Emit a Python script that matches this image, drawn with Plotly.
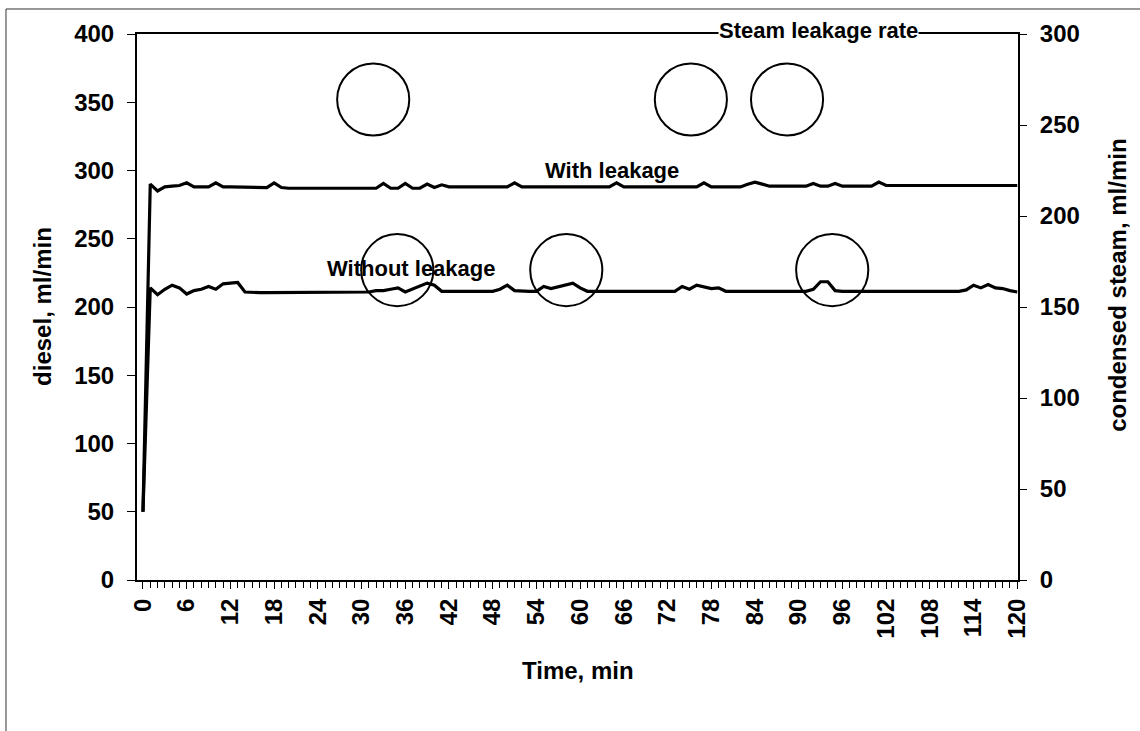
import plotly.graph_objects as go

# ---- data ----
minutes = list(range(0, 121))

with_leakage = [
    50, 290, 285, 288, 288.5, 289, 291, 288, 288, 288,          # 0-9
    291, 288, 288, 288, 288, 288, 287.5, 287.5, 291, 287.5,     # 10-19
    287, 287, 287, 287, 286.5, 286.5, 286.5, 287, 287, 287,     # 20-29
    287, 287, 287, 290.5, 287, 287, 290.5, 287, 287, 290,       # 30-39
    287.5, 289.5, 288, 288, 288, 288, 288, 288, 288, 288,       # 40-49
    288, 291, 288, 288, 288, 288, 288, 288, 288, 288,           # 50-59
    288, 288, 288, 288, 288, 291, 288, 288, 288, 288,           # 60-69
    288, 288, 288, 288, 288, 288, 288, 291, 288, 288,           # 70-79
    288, 288, 288, 290, 291.5, 290, 288.5, 288.5, 288.5, 288.5, # 80-89
    288.5, 288.5, 290.5, 288.5, 288.5, 290.5, 288.5, 288.5, 288.5, 288.5,  # 90-99
    288.5, 291.5, 289, 289, 289, 289.5, 289, 289, 289, 289,     # 100-109
    289, 289, 289, 289, 289, 289, 289, 289, 289, 289,           # 110-119
    289,                                                         # 120
]

without_leakage = [
    50, 214, 209, 213, 216, 214, 209.5, 212, 213, 215,          # 0-9
    213, 217, 217.5, 218, 211, 210.5, 210.5, 210.5, 210.5, 210.5,  # 10-19
    210.5, 210.5, 210.5, 210.5, 210.5, 210.5, 210.5, 210.5, 210.5, 210.5,  # 20-29
    211, 211, 212, 212, 213, 214, 211, 213, 215, 217.5,         # 30-39
    216, 211.5, 211.5, 211.5, 211.5, 211.5, 211.5, 211.5, 211.5, 213,  # 40-49
    216, 212, 211.5, 211.5, 211.5, 215, 213.5, 215, 216.5, 217.5,  # 50-59
    214, 211.5, 211.5, 211.5, 211.5, 211.5, 211.5, 211.5, 211.5, 211.5,  # 60-69
    211.5, 211.5, 211.5, 211.5, 215, 213, 216, 214.5, 213.5, 214,  # 70-79
    211.5, 211.5, 211.5, 211.5, 211.5, 211.5, 211.5, 211.5, 211.5, 211.5,  # 80-89
    211.5, 211.5, 213, 218.5, 218.5, 212, 211.5, 211.5, 211.5, 211.5,  # 90-99
    211.5, 211.5, 211.5, 211.5, 211.5, 211.5, 211.5, 211.5, 211.5, 211.5,  # 100-109
    211.5, 211.5, 211.5, 212.5, 216, 214, 216.5, 214, 213.5, 212,  # 110-119
    211,                                                         # 120
]

# highlight circles (centre minute, centre diesel value)
circle_x = [31.6, 75.2, 88.4, 34.9, 58.1, 94.6]
circle_y = [352, 352, 352, 227, 227, 227]
circle_rx = 4.95   # minutes
circle_ry = 26.4   # ml/min

label_texts = ["With leakage", "Without leakage"]
label_x = [64.4, 36.8]
label_y = [300, 228.5]

x_ticks = list(range(0, 121, 6))
left_ticks = list(range(0, 401, 50))
right_ticks = list(range(0, 301, 50))

FONT = "Liberation Sans, Arial, sans-serif"

fig = go.Figure()
fig.add_trace(go.Scatter(x=minutes, y=with_leakage, mode="lines",
                         line=dict(color="black", width=3.2), showlegend=False))
fig.add_trace(go.Scatter(x=minutes, y=without_leakage, mode="lines",
                         line=dict(color="black", width=3.2), showlegend=False))
# empty trace to register the right-hand axis
fig.add_trace(go.Scatter(x=[], y=[], yaxis="y2", showlegend=False))

shapes = []
for cx, cy in zip(circle_x, circle_y):
    shapes.append(dict(type="circle", xref="x", yref="y",
                       x0=cx - circle_rx, x1=cx + circle_rx,
                       y0=cy - circle_ry, y1=cy + circle_ry,
                       line=dict(color="black", width=2)))
# outer chart-area frame
shapes.append(dict(type="rect", xref="paper", yref="paper",
                   x0=-0.1487, x1=1.16, y0=-0.30, y1=1.0458,
                   line=dict(color="#333333", width=1), layer="below"))

annotations = []
for t, ax_, ay_ in zip(label_texts, label_x, label_y):
    annotations.append(dict(text=t, x=ax_, y=ay_, xref="x", yref="y",
                            showarrow=False, xanchor="center", yanchor="middle",
                            font=dict(family=FONT, size=22, color="black", weight="bold")))
annotations.append(dict(text="Steam leakage rate", x=0.773, y=1.0055, xref="paper", yref="paper",
                        showarrow=False, xanchor="center", yanchor="middle",
                        bgcolor="white", borderpad=0,
                        font=dict(family=FONT, size=22, color="black", weight="bold")))
annotations.append(dict(text="diesel, ml/min", x=-0.1067, y=0.502, xref="paper", yref="paper",
                        showarrow=False, textangle=-90, xanchor="center", yanchor="middle",
                        font=dict(family=FONT, size=24, color="black", weight="bold")))
annotations.append(dict(text="condensed steam, ml/min", x=1.112, y=0.54, xref="paper", yref="paper",
                        showarrow=False, textangle=-90, xanchor="center", yanchor="middle",
                        font=dict(family=FONT, size=24, color="black", weight="bold")))
annotations.append(dict(text="Time, min", x=0.5006, y=-0.165, xref="paper", yref="paper",
                        showarrow=False, xanchor="center", yanchor="middle",
                        font=dict(family=FONT, size=24, color="black", weight="bold")))

tickfont = dict(family=FONT, size=24, color="black", weight="bold")

fig.update_layout(
    width=1140, height=731,
    margin=dict(l=137, r=122, t=34, b=151),
    paper_bgcolor="white", plot_bgcolor="white",
    shapes=shapes, annotations=annotations,
    xaxis=dict(range=[-0.82, 120.1], tickvals=x_ticks, ticktext=[str(v) for v in x_ticks],
               tickangle=-90, ticks="outside", ticklen=7, tickcolor="black",
               minor=dict(dtick=1, tick0=0, ticks="outside", ticklen=6, tickcolor="black", showgrid=False),
               showline=True, linecolor="black", linewidth=2, mirror=True,
               showgrid=False, zeroline=False, tickfont=tickfont),
    yaxis=dict(range=[0, 400], tickvals=left_ticks, ticks="outside", ticklen=8, tickcolor="black",
               showline=True, linecolor="black", linewidth=2, showgrid=False, zeroline=False,
               tickfont=tickfont, ticklabelstandoff=8),
    yaxis2=dict(range=[0, 300], tickvals=right_ticks, overlaying="y", side="right",
                ticks="outside", ticklen=7, tickcolor="black",
                showline=True, linecolor="black", linewidth=2, showgrid=False, zeroline=False,
                tickfont=tickfont, ticklabelstandoff=8),
)

fig.write_html("out.html")
